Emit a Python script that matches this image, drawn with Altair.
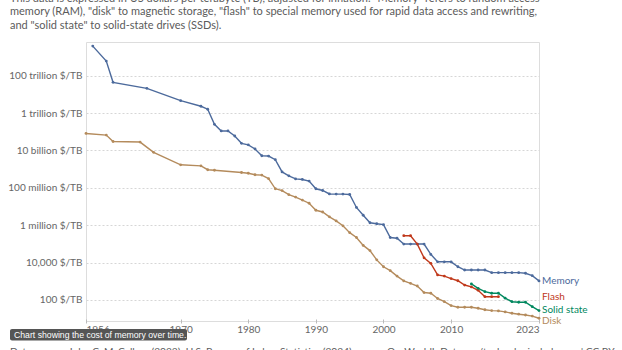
import altair as alt
import pandas as pd

# ---- data (US$ per terabyte, inflation-adjusted) ----
memory_years = [1957, 1959, 1960, 1965, 1970, 1973, 1974, 1975, 1976, 1977, 1978, 1979, 1980,
                1981, 1982, 1983, 1984, 1985, 1986, 1987, 1988, 1989, 1990, 1991, 1992, 1993,
                1994, 1995, 1996, 1997, 1998, 1999, 2000, 2001, 2002, 2003, 2004, 2005, 2006,
                2007, 2008, 2009, 2010, 2011, 2012, 2013, 2014, 2015, 2016, 2017, 2018, 2019,
                2020, 2021, 2022, 2023]
memory_cost = [3.8e15, 6.0e14, 4.4e13, 2.1e13, 4.6e12, 2.3e12, 1.6e12, 2.5e11, 1.1e11, 1.1e11,
               5.9e10, 2.4e10, 2.0e10, 1.2e10, 5.2e9, 5.0e9, 3.2e9, 7.1e8, 4.4e8, 3.0e8, 2.8e8,
               2.3e8, 8.9e7, 7.2e7, 4.7e7, 4.6e7, 4.6e7, 4.4e7, 8.9e6, 3.4e6, 1.35e6, 1.2e6,
               1.07e6, 2.2e5, 2.0e5, 9.8e4, 9.8e4, 9.8e4, 9.8e4, 2.75e4, 1.1e4, 1.1e4, 1.1e4,
               6.0e3, 4.0e3, 4.0e3, 4.0e3, 4.0e3, 2.9e3, 2.9e3, 2.9e3, 2.9e3, 2.9e3, 2.7e3,
               2.0e3, 1.05e3]

disk_years = [1956, 1959, 1960, 1964, 1966, 1970, 1973, 1974, 1975, 1979, 1980, 1981, 1982,
              1983, 1984, 1985, 1986, 1987, 1988, 1989, 1990, 1991, 1992, 1993, 1994, 1995,
              1996, 1997, 1998, 1999, 2000, 2001, 2002, 2003, 2004, 2005, 2006, 2007, 2008,
              2009, 2010, 2011, 2012, 2013, 2014, 2015, 2016, 2017, 2018, 2019, 2020, 2021,
              2022, 2023]
disk_cost = [8.1e10, 6.6e10, 3.0e10, 2.8e10, 7.9e9, 1.7e9, 1.5e9, 9.3e8, 8.7e8, 6.6e8, 6.0e8,
             5.0e8, 4.8e8, 3.1e8, 8.9e7, 7.1e7, 4.3e7, 3.2e7, 2.2e7, 1.5e7, 6.3e6, 5.1e6,
             2.8e6, 1.7e6, 9.3e5, 4.0e5, 2.2e5, 8.3e4, 4.4e4, 1.4e4, 6.0e3, 3.7e3, 1.9e3,
             1.05e3, 780, 560, 250, 230, 120, 81, 50, 41, 41, 41, 36, 30, 27, 26, 23, 19.5,
             17.4, 15.8, 13.8, 10.5]

flash_years = [2003, 2004, 2005, 2006, 2007, 2008, 2009, 2010, 2011, 2012, 2013, 2014, 2015,
               2016, 2017]
flash_cost = [2.75e5, 2.75e5, 9.8e4, 1.8e4, 9.1e3, 2.2e3, 1.9e3, 1.4e3, 1.07e3, 630, 500, 330,
              150, 150, 150]

ssd_years = [2013, 2014, 2015, 2016, 2017, 2018, 2019, 2020, 2021, 2022, 2023]
ssd_cost = [720, 420, 280, 230, 230, 125, 81, 76, 76, 44, 27]

series_names = ["Memory", "Flash", "Solid state", "Disk"]
series_colors = ["#4C6A9C", "#C0381A", "#00875E", "#B48B5C"]

x_ticks = [1956, 1970, 1980, 1990, 2000, 2010, 2023]
y_ticks = [1e2, 1e4, 1e6, 1e8, 1e10, 1e12, 1e14]
y_tick_labels = ["100 $/TB", "10,000 $/TB", "1 million $/TB", "100 million $/TB",
                 "10 billion $/TB", "1 trillion $/TB", "100 trillion $/TB"]

subtitle_lines = [
    'This data is expressed in US dollars per terabyte (TB), adjusted for inflation. "Memory" refers to random access',
    'memory (RAM), "disk" to magnetic storage, "flash" to special memory used for rapid data access and rewriting,',
    'and "solid state" to solid-state drives (SSDs).',
]
caption_text = "Chart showing the cost of memory over time."
source_left = "Data source: John C. McCallum (2023); U.S. Bureau of Labor Statistics (2024)"
source_right = "OurWorldInData.org/technological-change | CC BY"

# ---- build table ----
frames = []
for name, yrs, vals in [("Memory", memory_years, memory_cost), ("Disk", disk_years, disk_cost),
                        ("Flash", flash_years, flash_cost), ("Solid state", ssd_years, ssd_cost)]:
    frames.append(pd.DataFrame({"series": name, "year": yrs, "cost": vals}))
df = pd.concat(frames, ignore_index=True)
last = df.sort_values("year").groupby("series").tail(1)

W, H = 453, 279
PAD_L, PAD_T = 86, 42

label_expr = " : ".join(
    f"datum.value == {v:g} ? '{t}'" for v, t in zip(y_ticks, y_tick_labels)
) + " : ''"

xs = alt.X("year:Q", scale=alt.Scale(domain=[1956, 2023], nice=False, zero=False),
           axis=alt.Axis(values=x_ticks, format="d", title=None, grid=False, domain=False,
                         ticks=True, tickSize=4, tickColor="#bbbbbb", offset=-2,
                         labelPadding=1, labelFontSize=10, labelColor="#666666",
                         labelFont="Lato"))
ys = alt.Y("cost:Q", scale=alt.Scale(type="log", domain=[10 ** 0.876, 10 ** 15.8], nice=False),
           axis=alt.Axis(values=y_ticks, labelExpr=label_expr, title=None, domain=False,
                         ticks=False, grid=True, gridDash=[2, 2], gridColor="#d6d6d6",
                         labelPadding=4, labelFontSize=10, labelColor="#666666",
                         labelFont="Lato"))
color = alt.Color("series:N", scale=alt.Scale(domain=series_names, range=series_colors),
                  legend=None)

base = alt.Chart(df)
lines = base.mark_line(strokeWidth=1.4).encode(x=xs, y=ys, color=color, detail="series:N")
points = base.mark_circle(size=8, opacity=1).encode(x=xs, y=ys, color=color)

label_layers = []
for name, dy in [("Memory", 0), ("Flash", 0), ("Solid state", -1), ("Disk", 3)]:
    label_layers.append(
        alt.Chart(last[last.series == name]).mark_text(
            align="left", baseline="middle", dx=3, dy=dy, fontSize=10, font="Lato"
        ).encode(
            x=alt.value(W),
            y=alt.Y("cost:Q", scale=alt.Scale(type="log")),
            text="series:N",
            color=color,
        )
    )

one = pd.DataFrame({"k": [0]})
subtitle = alt.Chart(one).mark_text(
    text=subtitle_lines, align="left", baseline="alphabetic", lineHeight=13.3,
    fontSize=11, font="Lato", color="#5b5b5b"
).encode(x=alt.value(10 - PAD_L), y=alt.value(2 - PAD_T))

source_l = alt.Chart(one).mark_text(
    text=source_left, align="left", baseline="alphabetic", fontSize=10.2, font="Lato",
    color="#5b5b5b"
).encode(x=alt.value(10 - PAD_L), y=alt.value(355 - PAD_T))
source_r = alt.Chart(one).mark_text(
    text=source_right, align="left", baseline="alphabetic", fontSize=10.2, font="Lato",
    color="#5b5b5b"
).encode(x=alt.value(387 - PAD_L), y=alt.value(355 - PAD_T))

cap_box = alt.Chart(one).mark_rect(color="#555555", cornerRadius=2).encode(
    x=alt.value(10 - PAD_L), x2=alt.value(187 - PAD_L),
    y=alt.value(329 - PAD_T), y2=alt.value(340.5 - PAD_T))
cap_text = alt.Chart(one).mark_text(
    text=caption_text, align="left", baseline="middle", fontSize=8.7,
    font="Liberation Sans", color="white"
).encode(x=alt.value(14 - PAD_L), y=alt.value(335 - PAD_T))

chart = alt.layer(
    lines, points, *label_layers, subtitle, source_l, source_r, cap_box, cap_text
).resolve_scale(y="shared", x="shared").properties(
    width=W, height=H,
    autosize=alt.AutoSizeParams(type="none"),
    padding={"left": PAD_L, "top": PAD_T, "right": 622 - PAD_L - W, "bottom": 350 - PAD_T - H},
).configure_view(stroke=None).configure(background="white", font="Lato")

chart.save("out.html", embed_options={"renderer": "svg", "actions": False})
